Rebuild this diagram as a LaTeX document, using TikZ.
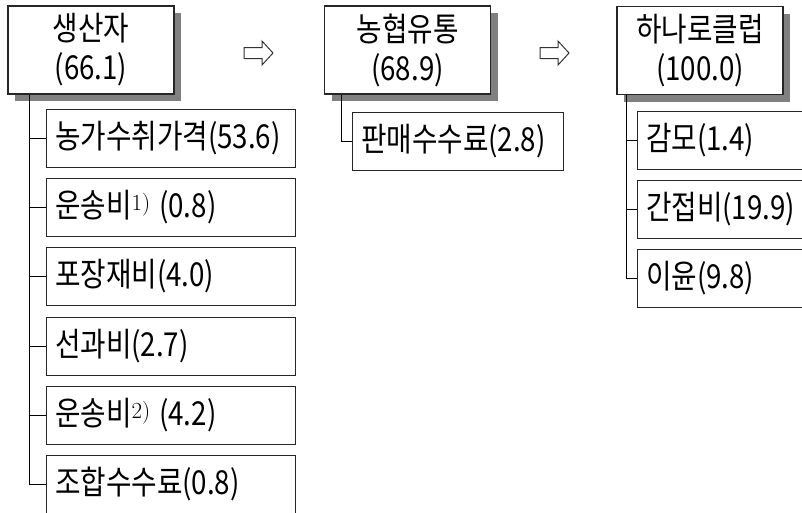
\documentclass[tikz,border=0pt]{standalone}
\usepackage{fontspec}
\newfontfamily\kr[FakeStretch=0.84]{Noto Sans CJK KR}
\usetikzlibrary{shadows}
\newcommand{\supnote}[1]{{\rmfamily\fontsize{23}{23}\selectfont\raisebox{7pt}{#1}}\hspace{-2pt}}
\tikzset{
  bigbox/.style={draw=black!85, line width=1.2pt, fill=white, minimum width=166pt,
    minimum height=88pt, inner sep=0pt, align=center,
    font=\kr\fontsize{33}{39}\selectfont,
    general shadow={fill=black!50, draw=none, shadow xshift=7pt, shadow yshift=-7pt}},
  subbox/.style={draw=black!85, line width=1pt, fill=white, minimum height=58pt,
    inner xsep=9pt, inner ysep=0pt, align=left, font=\kr\fontsize{33}{34}\selectfont},
  link/.style={draw=black, line width=1pt},
  harrow/.pic={\draw[line width=1pt, black!80, fill=white, line join=miter]
    (-14.5,-5.5) -- (3.5,-5.5) -- (3.5,-12) -- (14.5,0) -- (3.5,12) -- (3.5,5.5) -- (-14.5,5.5) -- cycle;}
}
\begin{document}
\begin{tikzpicture}[x=1pt,y=-1pt]
\useasboundingbox (0,0) rectangle (802,512);
\clip (0,0) rectangle (802,512);
\fill[white] (0,0) rectangle (802,512);

% main boxes
\node[bigbox] (P) at (91,50) {생산자\\(66.1)};
\node[bigbox] (N) at (407.5,50) {농협유통\\(68.9)};
\node[bigbox] (H) at (700,50.5) {하나로클럽\\(100.0)};

% arrows
\pic at (258.5,53) {harrow};
\pic at (554.5,53) {harrow};

% producer children
\node[subbox, text width=231pt] (p1) at (170.5,138) {농가수취가격(53.6)};
\node[subbox, text width=231pt] (p2) at (170.5,207) {운송비\supnote{1)} (0.8)};
\node[subbox, text width=231pt] (p3) at (170.5,276) {포장재비(4.0)};
\node[subbox, text width=231pt] (p4) at (170.5,346) {선과비(2.7)};
\node[subbox, text width=231pt] (p5) at (170.5,415) {운송비\supnote{2)} (4.2)};
\node[subbox, text width=231pt] (p6) at (170.5,484) {조합수수료(0.8)};

% nh children
\node[subbox, text width=193pt] (n1) at (457.5,141) {판매수수료(2.8)};

% hanaro children
\node[subbox, text width=185pt] (h1) at (738.5,140) {감모(1.4)};
\node[subbox, text width=185pt] (h2) at (738.5,209) {간접비(19.9)};
\node[subbox, text width=185pt] (h3) at (738.5,278) {이윤(9.8)};

% trunks
\coordinate (Pt) at ([xshift=22pt]P.south west);
\coordinate (Nt) at ([xshift=18pt]N.south west);
\coordinate (Ht) at ([xshift=10pt]H.south west);

\draw[link] (Pt) |- (p6.west);
\foreach \c in {p1,p2,p3,p4,p5} \draw[link] (\c.west) -- (\c.west -| Pt);
\draw[link] (Nt) |- (n1.west);
\draw[link] (Ht) |- (h3.west);
\foreach \c in {h1,h2} \draw[link] (\c.west) -- (\c.west -| Ht);
\end{tikzpicture}
\end{document}
